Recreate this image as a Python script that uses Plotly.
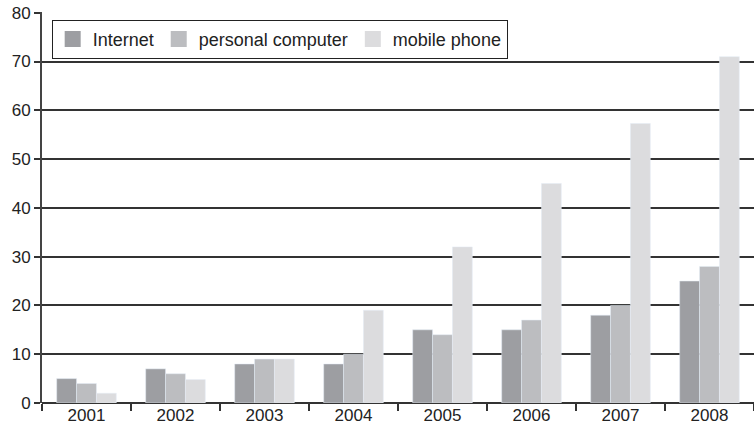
import plotly.graph_objects as go

years = ["2001", "2002", "2003", "2004", "2005", "2006", "2007", "2008"]
internet = [5, 7, 8, 8, 15, 15, 18, 25]
personal_computer = [4, 6, 9, 10, 14, 17, 20, 28]
mobile_phone = [2, 4.8, 9, 19, 32, 45, 57.3, 71]
series_names = ["Internet", "personal computer", "mobile phone"]
series_colors = ["#9d9ea2", "#bcbdc0", "#dcdcde"]
y_ticks = [0, 10, 20, 30, 40, 50, 60, 70, 80]

fig = go.Figure()
for name, vals, col in zip(series_names, [internet, personal_computer, mobile_phone], series_colors):
    fig.add_trace(go.Bar(x=years, y=vals, name=name, marker_color=col, showlegend=False))
# legend-only entries with larger square swatches
for name, col in zip(series_names, series_colors):
    fig.add_trace(go.Scatter(x=[None], y=[None], mode="markers", name=name,
                             marker=dict(symbol="square", size=16, color=col)))

fig.update_layout(
    width=754, height=438,
    margin=dict(l=42, r=0, t=12, b=35),
    paper_bgcolor="white", plot_bgcolor="white",
    barmode="group", bargap=0.33, bargroupgap=0,
    font=dict(family="Liberation Sans, Arial, sans-serif", size=17, color="#222"),
    legend=dict(
        orientation="h", x=0.0136, y=0.98, xanchor="left", yanchor="top",
        bordercolor="#222", borderwidth=1, bgcolor="white",
        font=dict(size=18), itemsizing="trace", traceorder="normal",
    ),
    showlegend=True,
)
fig.update_xaxes(
    showgrid=False, ticks="outside", tickson="boundaries", ticklen=7,
    tickcolor="#333", tickwidth=1.5, showline=False, zeroline=False,
)
fig.update_yaxes(
    range=[0, 80.15], tickvals=y_ticks, showgrid=True, gridcolor="#333", gridwidth=1.5,
    ticks="outside", ticklen=6, tickcolor="#333", tickwidth=1.5,
    showline=True, linecolor="#444", linewidth=2, zeroline=True, zerolinecolor="#333", zerolinewidth=1.5,
)
fig.write_html("out.html", config={"displayModeBar": False},
               post_script="document.body.style.margin='0';")
